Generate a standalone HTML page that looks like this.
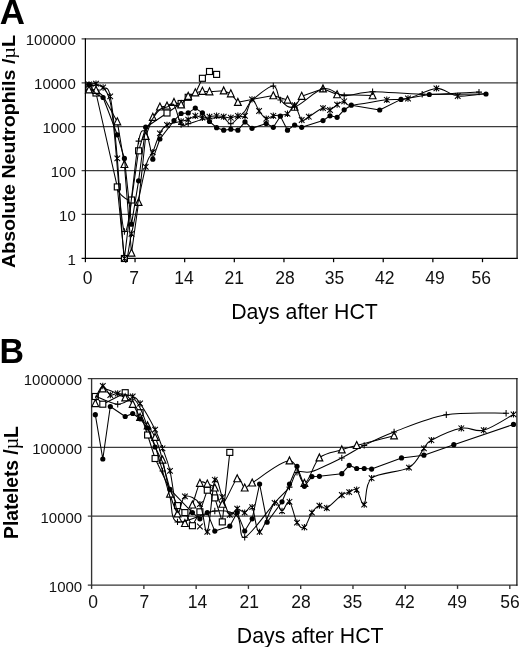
<!DOCTYPE html>
<html><head><meta charset="utf-8"><title>Figure</title>
<style>
html,body{margin:0;padding:0;background:#fff;}
svg{display:block;will-change:transform;font-family:"Liberation Sans",sans-serif;}
.g{stroke:#3c3c3c;stroke-width:1.25;fill:none;}
.g2{stroke:#111;stroke-width:1.25;fill:none;}
.ax{stroke:#000;stroke-width:1.25;fill:none;}
.axb{stroke:#333;stroke-width:1.35;fill:none;}
.t{font-size:15px;fill:#111;}
.tx{font-size:17.5px;fill:#111;}
.xt{font-size:21.3px;fill:#000;}
.pl{font-size:35.3px;font-weight:bold;fill:#000;}
.yl{font-size:18.6px;font-weight:bold;fill:#000;}
.mu{font-family:"Liberation Serif","DejaVu Serif",serif;font-weight:normal;font-size:1.03em;}
.s{stroke:#000;stroke-width:1.05;fill:none;stroke-linejoin:round;}
.mo{stroke:#000;stroke-width:1.15;fill:#fff;}
.mf{stroke:none;fill:#000;}
.mx{stroke:#000;stroke-width:1.05;fill:none;}
</style></head><body>
<svg width="520" height="647" viewBox="0 0 520 647">
<rect width="520" height="647" fill="#fff"/>
<text x="-0.25" y="24.3" class="pl" textLength="25.2" lengthAdjust="spacingAndGlyphs">A</text>
<text x="-0.6" y="363.2" class="pl" textLength="24.5" lengthAdjust="spacingAndGlyphs">B</text>
<line x1="81.60" y1="258.40" x2="517.70" y2="258.40" class="ax"/>
<text x="75.8" y="264.90" class="t" text-anchor="end">1</text>
<line x1="81.60" y1="214.49" x2="517.70" y2="214.49" class="g"/>
<text x="75.8" y="220.99" class="t" text-anchor="end">10</text>
<line x1="81.60" y1="170.58" x2="517.70" y2="170.58" class="g"/>
<text x="75.8" y="177.08" class="t" text-anchor="end">100</text>
<line x1="81.60" y1="126.67" x2="517.70" y2="126.67" class="g"/>
<text x="75.8" y="133.17" class="t" text-anchor="end">1000</text>
<line x1="81.60" y1="82.76" x2="517.70" y2="82.76" class="g"/>
<text x="75.8" y="89.26" class="t" text-anchor="end">10000</text>
<line x1="81.60" y1="38.85" x2="517.70" y2="38.85" class="g"/>
<text x="75.8" y="45.35" class="t" text-anchor="end">100000</text>
<line x1="85.40" y1="38.35" x2="85.40" y2="259.00" class="ax"/>
<line x1="517.10" y1="38.35" x2="517.10" y2="259.00" class="g2"/>
<line x1="85.40" y1="258.40" x2="85.40" y2="262.20" class="ax"/>
<text x="87.50" y="284.2" class="tx" text-anchor="middle">0</text>
<line x1="135.04" y1="258.40" x2="135.04" y2="262.20" class="ax"/>
<text x="134.20" y="284.2" class="tx" text-anchor="middle">7</text>
<line x1="184.67" y1="258.40" x2="184.67" y2="262.20" class="ax"/>
<text x="183.90" y="284.2" class="tx" text-anchor="middle">14</text>
<line x1="234.31" y1="258.40" x2="234.31" y2="262.20" class="ax"/>
<text x="234.30" y="284.2" class="tx" text-anchor="middle">21</text>
<line x1="283.95" y1="258.40" x2="283.95" y2="262.20" class="ax"/>
<text x="285.00" y="284.2" class="tx" text-anchor="middle">28</text>
<line x1="333.59" y1="258.40" x2="333.59" y2="262.20" class="ax"/>
<text x="334.60" y="284.2" class="tx" text-anchor="middle">35</text>
<line x1="383.22" y1="258.40" x2="383.22" y2="262.20" class="ax"/>
<text x="384.80" y="284.2" class="tx" text-anchor="middle">42</text>
<line x1="432.86" y1="258.40" x2="432.86" y2="262.20" class="ax"/>
<text x="435.00" y="284.2" class="tx" text-anchor="middle">49</text>
<line x1="482.50" y1="258.40" x2="482.50" y2="262.20" class="ax"/>
<text x="481.30" y="284.2" class="tx" text-anchor="middle">56</text>
<text x="304.5" y="319.3" class="xt" text-anchor="middle">Days after HCT</text>
<line x1="87.80" y1="585.10" x2="517.50" y2="585.10" class="axb"/>
<text x="82.2" y="591.60" class="t" text-anchor="end">1000</text>
<line x1="87.80" y1="516.23" x2="517.50" y2="516.23" class="g"/>
<text x="82.2" y="522.73" class="t" text-anchor="end">10000</text>
<line x1="87.80" y1="447.37" x2="517.50" y2="447.37" class="g"/>
<text x="82.2" y="453.87" class="t" text-anchor="end">100000</text>
<line x1="87.80" y1="378.50" x2="517.50" y2="378.50" class="g"/>
<text x="82.2" y="385.00" class="t" text-anchor="end">1000000</text>
<line x1="91.60" y1="378.00" x2="91.60" y2="585.70" class="axb"/>
<line x1="516.90" y1="378.00" x2="516.90" y2="585.70" class="g2"/>
<line x1="91.60" y1="585.10" x2="91.60" y2="588.90" class="axb"/>
<text x="93.10" y="608.0" class="tx" text-anchor="middle">0</text>
<line x1="143.88" y1="585.10" x2="143.88" y2="588.90" class="axb"/>
<text x="144.30" y="608.0" class="tx" text-anchor="middle">7</text>
<line x1="196.15" y1="585.10" x2="196.15" y2="588.90" class="axb"/>
<text x="197.50" y="608.0" class="tx" text-anchor="middle">14</text>
<line x1="248.43" y1="585.10" x2="248.43" y2="588.90" class="axb"/>
<text x="249.20" y="608.0" class="tx" text-anchor="middle">21</text>
<line x1="300.70" y1="585.10" x2="300.70" y2="588.90" class="axb"/>
<text x="300.90" y="608.0" class="tx" text-anchor="middle">28</text>
<line x1="352.98" y1="585.10" x2="352.98" y2="588.90" class="axb"/>
<text x="352.40" y="608.0" class="tx" text-anchor="middle">35</text>
<line x1="405.26" y1="585.10" x2="405.26" y2="588.90" class="axb"/>
<text x="405.00" y="608.0" class="tx" text-anchor="middle">42</text>
<line x1="457.53" y1="585.10" x2="457.53" y2="588.90" class="axb"/>
<text x="457.30" y="608.0" class="tx" text-anchor="middle">49</text>
<line x1="509.81" y1="585.10" x2="509.81" y2="588.90" class="axb"/>
<text x="510.10" y="608.0" class="tx" text-anchor="middle">56</text>
<text x="310.2" y="642.5" class="xt" text-anchor="middle">Days after HCT</text>
<text transform="translate(15.3,268) rotate(-90)" class="yl" style="font-size:19.1px" textLength="233" lengthAdjust="spacingAndGlyphs">Absolute Neutrophils /<tspan class="mu">µ</tspan>L</text>
<text transform="translate(18.1,538.9) rotate(-90)" class="yl" style="font-size:19.7px" textLength="112.7" lengthAdjust="spacingAndGlyphs">Platelets /<tspan class="mu">µ</tspan>L</text>
<path d="M89.0,87.0 L96.0,93.0 L117.3,186.9 L124.4,258.5 L131.5,200.0 L138.6,150.8 L145.7,127.5 L167.0,113.0 L181.1,103.5 L188.2,97.3 L195.3,93.5 L202.4,78.3 L209.5,71.5 L216.6,74.4" class="s"/>
<rect x="86.0" y="84.0" width="6" height="6" class="mo"/>
<rect x="93.0" y="90.0" width="6" height="6" class="mo"/>
<rect x="114.3" y="183.9" width="6" height="6" class="mo"/>
<rect x="121.4" y="255.5" width="6" height="6" class="mo"/>
<rect x="128.5" y="197.0" width="6" height="6" class="mo"/>
<rect x="135.6" y="147.8" width="6" height="6" class="mo"/>
<rect x="164.0" y="110.0" width="6" height="6" class="mo"/>
<rect x="178.1" y="100.5" width="6" height="6" class="mo"/>
<rect x="185.2" y="94.3" width="6" height="6" class="mo"/>
<rect x="199.4" y="75.3" width="6" height="6" class="mo"/>
<rect x="206.5" y="68.5" width="6" height="6" class="mo"/>
<rect x="213.6" y="71.4" width="6" height="6" class="mo"/>
<path d="M89.0,89.8 L96.0,90.2 L103.1,96.0 L117.3,121.7 L124.4,164.4 L131.5,253.0 L138.6,202.3 L145.7,136.2 L152.8,117.2 L159.9,106.9 L167.0,105.9 L174.0,102.3 L181.1,104.7 L188.2,96.2 L195.3,92.7 L202.4,91.2 L209.5,91.7 L223.7,90.8 L230.8,93.7 L237.9,102.3 L252.0,99.4 L273.3,95.6 L287.5,100.0 L294.6,107.1 L301.7,96.2 L323.0,88.8 L337.1,94.6 L372.6,95.6" class="s"/>
<path d="M89.0,85.9 L92.4,92.9 L85.5,92.9 Z" class="mo"/>
<path d="M96.0,86.3 L99.4,93.3 L92.6,93.3 Z" class="mo"/>
<path d="M117.3,117.8 L120.7,124.8 L113.9,124.8 Z" class="mo"/>
<path d="M124.4,160.5 L127.8,167.5 L121.0,167.5 Z" class="mo"/>
<path d="M131.5,249.1 L134.9,256.1 L128.1,256.1 Z" class="mo"/>
<path d="M138.6,198.4 L142.0,205.4 L135.2,205.4 Z" class="mo"/>
<path d="M145.7,132.3 L149.1,139.3 L142.3,139.3 Z" class="mo"/>
<path d="M152.8,113.3 L156.2,120.3 L149.4,120.3 Z" class="mo"/>
<path d="M159.9,103.0 L163.3,110.0 L156.5,110.0 Z" class="mo"/>
<path d="M167.0,102.0 L170.4,109.0 L163.6,109.0 Z" class="mo"/>
<path d="M174.0,98.4 L177.4,105.4 L170.6,105.4 Z" class="mo"/>
<path d="M181.1,100.8 L184.5,107.8 L177.7,107.8 Z" class="mo"/>
<path d="M188.2,92.3 L191.6,99.3 L184.8,99.3 Z" class="mo"/>
<path d="M195.3,88.8 L198.7,95.8 L191.9,95.8 Z" class="mo"/>
<path d="M202.4,87.3 L205.8,94.3 L199.0,94.3 Z" class="mo"/>
<path d="M209.5,87.8 L212.9,94.8 L206.1,94.8 Z" class="mo"/>
<path d="M223.7,86.9 L227.1,93.9 L220.3,93.9 Z" class="mo"/>
<path d="M230.8,89.8 L234.2,96.8 L227.4,96.8 Z" class="mo"/>
<path d="M237.9,98.4 L241.3,105.4 L234.5,105.4 Z" class="mo"/>
<path d="M273.3,91.7 L276.7,98.7 L269.9,98.7 Z" class="mo"/>
<path d="M287.5,96.1 L290.9,103.1 L284.1,103.1 Z" class="mo"/>
<path d="M294.6,103.2 L298.0,110.2 L291.2,110.2 Z" class="mo"/>
<path d="M301.7,92.3 L305.1,99.3 L298.3,99.3 Z" class="mo"/>
<path d="M323.0,84.9 L326.4,91.9 L319.6,91.9 Z" class="mo"/>
<path d="M337.1,90.7 L340.5,97.7 L333.7,97.7 Z" class="mo"/>
<path d="M372.6,91.7 L376.0,98.7 L369.2,98.7 Z" class="mo"/>
<path d="M89.0,84.5 C90.1,84.4 93.7,83.2 96.0,83.7 C98.4,84.2 100.8,85.4 103.1,87.5 C105.5,89.6 107.9,84.6 110.2,96.4 C112.6,108.2 115.0,131.4 117.3,158.4 C119.7,185.4 122.0,245.9 124.4,258.5 C126.8,271.1 128.0,249.1 131.5,233.8 C135.0,218.5 142.1,180.5 145.7,166.9 C149.2,153.3 150.4,157.8 152.8,152.2 C155.1,146.6 157.5,137.9 159.9,133.4 C162.2,128.9 163.4,127.0 167.0,125.0 C170.5,123.0 177.6,122.4 181.1,121.5 C184.7,120.6 185.9,120.5 188.2,119.6 C190.6,118.6 193.0,116.1 195.3,115.8 C197.7,115.5 200.0,117.5 202.4,117.7 C204.8,117.9 207.1,117.0 209.5,116.7 C211.9,116.4 214.2,115.8 216.6,115.8 C219.0,115.8 221.3,116.4 223.7,116.7 C226.0,117.0 228.4,117.9 230.8,117.7 C233.1,117.5 235.5,116.1 237.9,115.8 C240.2,115.5 242.6,118.5 245.0,115.8 C247.3,113.1 249.7,100.2 252.0,99.4 C254.4,98.6 256.8,107.8 259.1,111.0 C261.5,114.2 263.9,117.9 266.2,118.7 C268.6,119.5 269.8,116.6 273.3,115.8 C276.9,115.0 284.0,115.6 287.5,113.8 C291.0,112.0 292.2,104.2 294.6,105.2 C297.0,106.2 299.3,118.1 301.7,120.0 C304.0,121.9 305.2,118.7 308.8,116.7 C312.3,114.7 319.4,109.2 323.0,108.1 C326.5,107.0 327.7,110.6 330.0,110.0 C332.4,109.4 334.8,106.0 337.1,104.6 C339.5,103.1 341.9,101.2 344.2,101.3 C346.6,101.4 344.2,105.5 351.3,105.2 C358.4,105.0 377.3,100.9 386.8,99.8 C396.2,98.7 399.8,100.4 408.0,98.5 C416.3,96.6 428.1,88.8 436.4,88.4 C444.7,88.0 449.4,95.1 457.7,96.0 C466.0,96.9 481.3,94.0 486.0,93.6" class="s"/>
<path d="M86.2,81.7 L91.8,87.3 M86.2,87.3 L91.8,81.7 M89.0,81.3 L89.0,87.7" class="mx"/>
<path d="M93.2,80.9 L98.8,86.5 M93.2,86.5 L98.8,80.9 M96.0,80.5 L96.0,86.9" class="mx"/>
<path d="M100.3,84.7 L105.9,90.3 M100.3,90.3 L105.9,84.7 M103.1,84.3 L103.1,90.7" class="mx"/>
<path d="M107.4,93.6 L113.0,99.2 M107.4,99.2 L113.0,93.6 M110.2,93.2 L110.2,99.6" class="mx"/>
<path d="M114.5,155.6 L120.1,161.2 M114.5,161.2 L120.1,155.6 M117.3,155.2 L117.3,161.6" class="mx"/>
<path d="M121.6,255.7 L127.2,261.3 M121.6,261.3 L127.2,255.7 M124.4,255.3 L124.4,261.7" class="mx"/>
<path d="M128.7,231.0 L134.3,236.6 M128.7,236.6 L134.3,231.0 M131.5,230.6 L131.5,237.0" class="mx"/>
<path d="M142.9,164.1 L148.5,169.7 M142.9,169.7 L148.5,164.1 M145.7,163.7 L145.7,170.1" class="mx"/>
<path d="M150.0,149.4 L155.6,155.0 M150.0,155.0 L155.6,149.4 M152.8,149.0 L152.8,155.4" class="mx"/>
<path d="M157.1,130.6 L162.7,136.2 M157.1,136.2 L162.7,130.6 M159.9,130.2 L159.9,136.6" class="mx"/>
<path d="M164.2,122.2 L169.8,127.8 M164.2,127.8 L169.8,122.2 M167.0,121.8 L167.0,128.2" class="mx"/>
<path d="M178.3,118.7 L183.9,124.3 M178.3,124.3 L183.9,118.7 M181.1,118.3 L181.1,124.7" class="mx"/>
<path d="M185.4,116.8 L191.0,122.4 M185.4,122.4 L191.0,116.8 M188.2,116.4 L188.2,122.8" class="mx"/>
<path d="M192.5,113.0 L198.1,118.6 M192.5,118.6 L198.1,113.0 M195.3,112.6 L195.3,119.0" class="mx"/>
<path d="M199.6,114.9 L205.2,120.5 M199.6,120.5 L205.2,114.9 M202.4,114.5 L202.4,120.9" class="mx"/>
<path d="M206.7,113.9 L212.3,119.5 M206.7,119.5 L212.3,113.9 M209.5,113.5 L209.5,119.9" class="mx"/>
<path d="M213.8,113.0 L219.4,118.6 M213.8,118.6 L219.4,113.0 M216.6,112.6 L216.6,119.0" class="mx"/>
<path d="M220.9,113.9 L226.5,119.5 M220.9,119.5 L226.5,113.9 M223.7,113.5 L223.7,119.9" class="mx"/>
<path d="M228.0,114.9 L233.6,120.5 M228.0,120.5 L233.6,114.9 M230.8,114.5 L230.8,120.9" class="mx"/>
<path d="M235.1,113.0 L240.7,118.6 M235.1,118.6 L240.7,113.0 M237.9,112.6 L237.9,119.0" class="mx"/>
<path d="M242.2,113.0 L247.8,118.6 M242.2,118.6 L247.8,113.0 M245.0,112.6 L245.0,119.0" class="mx"/>
<path d="M249.2,96.6 L254.8,102.2 M249.2,102.2 L254.8,96.6 M252.0,96.2 L252.0,102.6" class="mx"/>
<path d="M256.3,108.2 L261.9,113.8 M256.3,113.8 L261.9,108.2 M259.1,107.8 L259.1,114.2" class="mx"/>
<path d="M263.4,115.9 L269.0,121.5 M263.4,121.5 L269.0,115.9 M266.2,115.5 L266.2,121.9" class="mx"/>
<path d="M270.5,113.0 L276.1,118.6 M270.5,118.6 L276.1,113.0 M273.3,112.6 L273.3,119.0" class="mx"/>
<path d="M284.7,111.0 L290.3,116.6 M284.7,116.6 L290.3,111.0 M287.5,110.6 L287.5,117.0" class="mx"/>
<path d="M291.8,102.4 L297.4,108.0 M291.8,108.0 L297.4,102.4 M294.6,102.0 L294.6,108.4" class="mx"/>
<path d="M298.9,117.2 L304.5,122.8 M298.9,122.8 L304.5,117.2 M301.7,116.8 L301.7,123.2" class="mx"/>
<path d="M306.0,113.9 L311.6,119.5 M306.0,119.5 L311.6,113.9 M308.8,113.5 L308.8,119.9" class="mx"/>
<path d="M320.2,105.3 L325.8,110.9 M320.2,110.9 L325.8,105.3 M323.0,104.9 L323.0,111.3" class="mx"/>
<path d="M327.2,107.2 L332.8,112.8 M327.2,112.8 L332.8,107.2 M330.0,106.8 L330.0,113.2" class="mx"/>
<path d="M334.3,101.8 L339.9,107.4 M334.3,107.4 L339.9,101.8 M337.1,101.4 L337.1,107.8" class="mx"/>
<path d="M341.4,98.5 L347.0,104.1 M341.4,104.1 L347.0,98.5 M344.2,98.1 L344.2,104.5" class="mx"/>
<path d="M384.0,97.0 L389.6,102.6 M384.0,102.6 L389.6,97.0 M386.8,96.6 L386.8,103.0" class="mx"/>
<path d="M405.2,95.7 L410.8,101.3 M405.2,101.3 L410.8,95.7 M408.0,95.3 L408.0,101.7" class="mx"/>
<path d="M433.6,85.6 L439.2,91.2 M433.6,91.2 L439.2,85.6 M436.4,85.2 L436.4,91.6" class="mx"/>
<path d="M454.9,93.2 L460.5,98.8 M454.9,98.8 L460.5,93.2 M457.7,92.8 L457.7,99.2" class="mx"/>
<path d="M117.3,189.5 Q121.3,197 128.5,200" class="s"/>
<path d="M89.0,84.5 L96.0,94.0 L103.1,97.5 L117.3,134.8 L124.4,158.4 L131.5,224.2 L138.6,180.8 L145.7,127.2 L152.8,159.2 L159.9,139.0 L174.0,120.6 L181.1,113.5 L188.2,112.9 L195.3,108.1 L202.4,112.9 L209.5,121.5 L216.6,127.7 L223.7,130.2 L230.8,129.2 L237.9,130.2 L245.0,121.9 L252.0,128.3 L266.2,123.5 L273.3,127.3 L280.4,116.2 L287.5,130.2 L294.6,125.0 L301.7,127.3 L323.0,120.6 L330.0,115.8 L337.1,117.3 L344.2,109.8 L351.3,105.2 L379.7,110.0 L401.0,99.4 L429.3,94.5 L486.0,94.0" class="s"/>
<circle cx="89.0" cy="84.5" r="2.6" class="mf"/>
<circle cx="103.1" cy="97.5" r="2.6" class="mf"/>
<circle cx="117.3" cy="134.8" r="2.6" class="mf"/>
<circle cx="124.4" cy="158.4" r="2.6" class="mf"/>
<circle cx="131.5" cy="224.2" r="2.6" class="mf"/>
<circle cx="138.6" cy="180.8" r="2.6" class="mf"/>
<circle cx="145.7" cy="127.2" r="2.6" class="mf"/>
<circle cx="152.8" cy="159.2" r="2.6" class="mf"/>
<circle cx="159.9" cy="139.0" r="2.6" class="mf"/>
<circle cx="174.0" cy="120.6" r="2.6" class="mf"/>
<circle cx="181.1" cy="113.5" r="2.6" class="mf"/>
<circle cx="188.2" cy="112.9" r="2.6" class="mf"/>
<circle cx="195.3" cy="108.1" r="2.6" class="mf"/>
<circle cx="202.4" cy="112.9" r="2.6" class="mf"/>
<circle cx="209.5" cy="121.5" r="2.6" class="mf"/>
<circle cx="216.6" cy="127.7" r="2.6" class="mf"/>
<circle cx="223.7" cy="130.2" r="2.6" class="mf"/>
<circle cx="230.8" cy="129.2" r="2.6" class="mf"/>
<circle cx="237.9" cy="130.2" r="2.6" class="mf"/>
<circle cx="245.0" cy="121.9" r="2.6" class="mf"/>
<circle cx="252.0" cy="128.3" r="2.6" class="mf"/>
<circle cx="266.2" cy="123.5" r="2.6" class="mf"/>
<circle cx="273.3" cy="127.3" r="2.6" class="mf"/>
<circle cx="280.4" cy="116.2" r="2.6" class="mf"/>
<circle cx="287.5" cy="130.2" r="2.6" class="mf"/>
<circle cx="294.6" cy="125.0" r="2.6" class="mf"/>
<circle cx="301.7" cy="127.3" r="2.6" class="mf"/>
<circle cx="323.0" cy="120.6" r="2.6" class="mf"/>
<circle cx="330.0" cy="115.8" r="2.6" class="mf"/>
<circle cx="337.1" cy="117.3" r="2.6" class="mf"/>
<circle cx="344.2" cy="109.8" r="2.6" class="mf"/>
<circle cx="351.3" cy="105.2" r="2.6" class="mf"/>
<circle cx="379.7" cy="110.0" r="2.6" class="mf"/>
<circle cx="401.0" cy="99.4" r="2.6" class="mf"/>
<circle cx="429.3" cy="94.5" r="2.6" class="mf"/>
<circle cx="486.0" cy="94.0" r="2.6" class="mf"/>
<path d="M89.0,85.0 C92.5,87.8 104.3,77.6 110.2,102.0 C116.1,126.4 119.7,225.0 124.4,231.5 C129.1,238.0 135.0,158.0 138.6,141.1 C142.1,124.2 143.3,133.8 145.7,130.0 C148.0,126.2 150.4,121.9 152.8,118.5 C155.1,115.1 157.5,111.4 159.9,109.5 C162.2,107.6 164.6,107.8 167.0,107.0 C169.3,106.2 171.7,102.1 174.0,105.0 C176.4,107.9 178.8,121.4 181.1,124.5 C183.5,127.6 184.7,124.6 188.2,123.8 C191.8,123.0 197.7,120.5 202.4,119.5 C207.1,118.5 213.0,118.0 216.6,117.8 C220.1,117.5 221.3,117.0 223.7,118.0 C226.0,119.0 228.4,123.8 230.8,123.8 C233.1,123.8 235.5,120.1 237.9,118.0 C240.2,115.9 242.6,113.9 245.0,111.0 C247.3,108.1 247.3,104.6 252.0,100.4 C256.8,96.2 268.6,86.1 273.3,86.0 C278.0,85.9 276.9,96.5 280.4,100.0 C284.0,103.5 287.5,108.9 294.6,107.0 C301.7,105.1 314.7,90.7 323.0,88.8 C331.2,86.9 336.0,95.1 344.2,95.6 C352.5,96.1 359.6,91.9 372.6,91.7 C385.6,91.5 404.5,94.1 422.2,94.2 C440.0,94.3 469.5,92.4 479.0,92.1" class="s"/>
<path d="M121.4,231.5 L127.4,231.5 M124.4,228.3 L124.4,234.7" class="mx"/>
<path d="M135.6,141.1 L141.6,141.1 M138.6,137.9 L138.6,144.3" class="mx"/>
<path d="M178.1,124.5 L184.1,124.5 M181.1,121.3 L181.1,127.7" class="mx"/>
<path d="M185.2,123.8 L191.2,123.8 M188.2,120.6 L188.2,127.0" class="mx"/>
<path d="M227.8,123.8 L233.8,123.8 M230.8,120.6 L230.8,127.0" class="mx"/>
<path d="M270.3,86.0 L276.3,86.0 M273.3,82.8 L273.3,89.2" class="mx"/>
<path d="M277.4,100.0 L283.4,100.0 M280.4,96.8 L280.4,103.2" class="mx"/>
<path d="M291.6,107.0 L297.6,107.0 M294.6,103.8 L294.6,110.2" class="mx"/>
<path d="M320.0,88.8 L326.0,88.8 M323.0,85.6 L323.0,92.0" class="mx"/>
<path d="M341.2,95.6 L347.2,95.6 M344.2,92.4 L344.2,98.8" class="mx"/>
<path d="M369.6,91.7 L375.6,91.7 M372.6,88.5 L372.6,94.9" class="mx"/>
<path d="M419.2,94.2 L425.2,94.2 M422.2,91.0 L422.2,97.4" class="mx"/>
<path d="M476.0,92.1 L482.0,92.1 M479.0,88.9 L479.0,95.3" class="mx"/>
<path d="M95.3,396.5 L102.8,404.2 L125.2,392.7 L140.1,412.7 L147.6,435.0 L155.1,458.5 L177.5,505.6 L184.9,512.6 L192.4,525.7 L199.9,511.8 L207.3,490.2 L214.8,497.9 L222.3,521.9 L229.8,452.4" class="s"/>
<rect x="92.3" y="393.5" width="6" height="6" class="mo"/>
<rect x="99.8" y="401.2" width="6" height="6" class="mo"/>
<rect x="122.2" y="389.7" width="6" height="6" class="mo"/>
<rect x="137.1" y="409.7" width="6" height="6" class="mo"/>
<rect x="144.6" y="432.0" width="6" height="6" class="mo"/>
<rect x="152.1" y="455.5" width="6" height="6" class="mo"/>
<rect x="174.5" y="502.6" width="6" height="6" class="mo"/>
<rect x="181.9" y="509.6" width="6" height="6" class="mo"/>
<rect x="189.4" y="522.7" width="6" height="6" class="mo"/>
<rect x="196.9" y="508.8" width="6" height="6" class="mo"/>
<rect x="204.3" y="487.2" width="6" height="6" class="mo"/>
<rect x="211.8" y="494.9" width="6" height="6" class="mo"/>
<rect x="219.3" y="518.9" width="6" height="6" class="mo"/>
<rect x="226.8" y="449.4" width="6" height="6" class="mo"/>
<path d="M95.3,403.5 C96.6,401.1 97.8,389.8 102.8,388.8 C107.8,387.9 120.2,395.2 125.2,397.8 C130.2,400.4 130.2,400.9 132.7,404.2 C135.2,407.4 137.6,413.7 140.1,417.3 C142.6,420.9 145.1,422.5 147.6,425.8 C150.1,429.1 152.6,431.6 155.1,437.3 C157.6,443.0 160.1,450.6 162.5,460.0 C165.0,469.4 167.5,485.0 170.0,494.0 C172.5,503.0 175.0,508.9 177.5,513.8 C180.0,518.7 182.5,524.9 184.9,523.4 C187.4,521.9 189.9,511.6 192.4,504.9 C194.9,498.2 197.4,486.7 199.9,483.2 C202.4,479.7 204.9,483.2 207.3,484.0 C209.8,484.8 212.3,484.5 214.8,487.9 C217.3,491.2 218.6,505.7 222.3,504.1 C226.0,502.6 233.5,481.3 237.2,478.6 C241.0,475.9 242.2,487.2 244.7,487.9 C247.2,488.6 244.7,487.4 252.2,482.9 C259.6,478.4 280.8,460.8 289.5,460.8 C298.2,460.9 299.5,483.7 304.4,483.2 C309.4,482.7 313.1,463.4 319.4,457.8 C325.6,452.2 335.6,451.9 341.8,449.8 C348.0,447.7 348.0,447.8 356.7,445.4 C365.4,443.0 387.8,437.3 394.1,435.7" class="s"/>
<path d="M95.3,399.6 L98.7,406.6 L91.9,406.6 Z" class="mo"/>
<path d="M102.8,384.9 L106.2,391.9 L99.4,391.9 Z" class="mo"/>
<path d="M125.2,393.9 L128.6,400.9 L121.8,400.9 Z" class="mo"/>
<path d="M132.7,400.3 L136.1,407.3 L129.3,407.3 Z" class="mo"/>
<path d="M140.1,413.4 L143.5,420.4 L136.7,420.4 Z" class="mo"/>
<path d="M147.6,421.9 L151.0,428.9 L144.2,428.9 Z" class="mo"/>
<path d="M155.1,433.4 L158.5,440.4 L151.7,440.4 Z" class="mo"/>
<path d="M162.5,456.1 L165.9,463.1 L159.1,463.1 Z" class="mo"/>
<path d="M170.0,490.1 L173.4,497.1 L166.6,497.1 Z" class="mo"/>
<path d="M177.5,509.9 L180.9,516.9 L174.1,516.9 Z" class="mo"/>
<path d="M184.9,519.5 L188.3,526.5 L181.5,526.5 Z" class="mo"/>
<path d="M192.4,501.0 L195.8,508.0 L189.0,508.0 Z" class="mo"/>
<path d="M199.9,479.3 L203.3,486.3 L196.5,486.3 Z" class="mo"/>
<path d="M207.3,480.1 L210.8,487.1 L203.9,487.1 Z" class="mo"/>
<path d="M214.8,484.0 L218.2,491.0 L211.4,491.0 Z" class="mo"/>
<path d="M222.3,500.2 L225.7,507.2 L218.9,507.2 Z" class="mo"/>
<path d="M237.2,474.7 L240.6,481.7 L233.8,481.7 Z" class="mo"/>
<path d="M244.7,484.0 L248.1,491.0 L241.3,491.0 Z" class="mo"/>
<path d="M252.2,479.0 L255.6,486.0 L248.8,486.0 Z" class="mo"/>
<path d="M289.5,456.9 L292.9,463.9 L286.1,463.9 Z" class="mo"/>
<path d="M304.4,479.3 L307.8,486.3 L301.0,486.3 Z" class="mo"/>
<path d="M319.4,453.9 L322.8,460.9 L316.0,460.9 Z" class="mo"/>
<path d="M341.8,445.9 L345.2,452.9 L338.4,452.9 Z" class="mo"/>
<path d="M356.7,441.5 L360.1,448.5 L353.3,448.5 Z" class="mo"/>
<path d="M394.1,431.8 L397.4,438.8 L390.7,438.8 Z" class="mo"/>
<path d="M95.3,398.0 C96.6,396.0 100.3,386.5 102.8,386.0 C105.3,385.5 107.8,393.8 110.3,395.0 C112.8,396.2 114.0,393.2 117.7,393.5 C121.5,393.8 128.9,394.8 132.7,396.5 C136.4,398.2 136.4,398.0 140.1,403.5 C143.9,409.0 151.3,422.1 155.1,429.6 C158.8,437.1 160.1,441.4 162.5,448.3 C165.0,455.2 167.5,460.3 170.0,470.9 C172.5,481.5 175.0,507.8 177.5,512.0 C180.0,516.2 181.2,497.7 184.9,496.4 C188.7,495.1 196.1,498.2 199.9,504.1 C203.6,510.0 204.9,535.9 207.3,531.9 C209.8,527.9 212.3,485.6 214.8,479.8 C217.3,474.0 219.8,491.2 222.3,497.1 C224.8,503.0 227.3,513.0 229.8,514.9 C232.2,516.8 234.7,509.1 237.2,508.7 C239.7,508.3 242.2,512.9 244.7,512.6 C247.2,512.4 249.7,504.0 252.2,507.2 C254.6,510.4 255.9,532.6 259.6,531.9 C263.4,531.2 270.8,506.4 274.6,502.9 C278.3,499.4 279.5,511.2 282.0,511.0 C284.5,510.8 287.0,499.9 289.5,501.8 C292.0,503.7 294.5,518.4 297.0,522.6 C299.5,526.9 301.9,529.0 304.4,527.3 C306.9,525.6 309.4,516.2 311.9,512.6 C314.4,509.0 316.9,506.4 319.4,505.6 C321.9,504.8 323.1,509.8 326.8,508.0 C330.6,506.2 338.0,497.6 341.8,495.0 C345.5,492.4 346.8,493.0 349.2,492.1 C351.7,491.2 354.2,487.7 356.7,489.8 C359.2,491.9 361.7,506.5 364.2,504.6 C366.7,502.7 364.2,484.4 371.6,478.2 C379.1,472.0 400.3,472.6 409.0,467.6 C417.7,462.6 420.2,453.0 423.9,448.4 C427.7,443.8 425.2,443.5 431.4,440.2 C437.6,436.9 452.5,430.0 461.3,428.3 C470.0,426.6 475.0,432.5 483.7,430.2 C492.4,427.9 508.6,417.0 513.5,414.4" class="s"/>
<path d="M100.0,383.2 L105.6,388.8 M100.0,388.8 L105.6,383.2 M102.8,382.8 L102.8,389.2" class="mx"/>
<path d="M107.5,392.2 L113.1,397.8 M107.5,397.8 L113.1,392.2 M110.3,391.8 L110.3,398.2" class="mx"/>
<path d="M114.9,390.7 L120.5,396.3 M114.9,396.3 L120.5,390.7 M117.7,390.3 L117.7,396.7" class="mx"/>
<path d="M129.9,393.7 L135.5,399.3 M129.9,399.3 L135.5,393.7 M132.7,393.3 L132.7,399.7" class="mx"/>
<path d="M137.3,400.7 L142.9,406.3 M137.3,406.3 L142.9,400.7 M140.1,400.3 L140.1,406.7" class="mx"/>
<path d="M152.3,426.8 L157.9,432.4 M152.3,432.4 L157.9,426.8 M155.1,426.4 L155.1,432.8" class="mx"/>
<path d="M159.7,445.5 L165.3,451.1 M159.7,451.1 L165.3,445.5 M162.5,445.1 L162.5,451.5" class="mx"/>
<path d="M167.2,468.1 L172.8,473.7 M167.2,473.7 L172.8,468.1 M170.0,467.7 L170.0,474.1" class="mx"/>
<path d="M182.1,493.6 L187.7,499.2 M182.1,499.2 L187.7,493.6 M184.9,493.2 L184.9,499.6" class="mx"/>
<path d="M197.1,501.3 L202.7,506.9 M197.1,506.9 L202.7,501.3 M199.9,500.9 L199.9,507.3" class="mx"/>
<path d="M204.5,529.1 L210.2,534.7 M204.5,534.7 L210.2,529.1 M207.3,528.7 L207.3,535.1" class="mx"/>
<path d="M212.0,477.0 L217.6,482.6 M212.0,482.6 L217.6,477.0 M214.8,476.6 L214.8,483.0" class="mx"/>
<path d="M219.5,494.3 L225.1,499.9 M219.5,499.9 L225.1,494.3 M222.3,493.9 L222.3,500.3" class="mx"/>
<path d="M227.0,512.1 L232.6,517.7 M227.0,517.7 L232.6,512.1 M229.8,511.7 L229.8,518.1" class="mx"/>
<path d="M234.4,505.9 L240.0,511.5 M234.4,511.5 L240.0,505.9 M237.2,505.5 L237.2,511.9" class="mx"/>
<path d="M241.9,509.8 L247.5,515.4 M241.9,515.4 L247.5,509.8 M244.7,509.4 L244.7,515.8" class="mx"/>
<path d="M249.4,504.4 L255.0,510.0 M249.4,510.0 L255.0,504.4 M252.2,504.0 L252.2,510.4" class="mx"/>
<path d="M256.8,529.1 L262.4,534.7 M256.8,534.7 L262.4,529.1 M259.6,528.7 L259.6,535.1" class="mx"/>
<path d="M271.8,500.1 L277.4,505.7 M271.8,505.7 L277.4,500.1 M274.6,499.7 L274.6,506.1" class="mx"/>
<path d="M279.2,508.2 L284.8,513.8 M279.2,513.8 L284.8,508.2 M282.0,507.8 L282.0,514.2" class="mx"/>
<path d="M286.7,499.0 L292.3,504.6 M286.7,504.6 L292.3,499.0 M289.5,498.6 L289.5,505.0" class="mx"/>
<path d="M294.2,519.8 L299.8,525.4 M294.2,525.4 L299.8,519.8 M297.0,519.4 L297.0,525.8" class="mx"/>
<path d="M301.6,524.5 L307.2,530.1 M301.6,530.1 L307.2,524.5 M304.4,524.1 L304.4,530.5" class="mx"/>
<path d="M309.1,509.8 L314.7,515.4 M309.1,515.4 L314.7,509.8 M311.9,509.4 L311.9,515.8" class="mx"/>
<path d="M316.6,502.8 L322.2,508.4 M316.6,508.4 L322.2,502.8 M319.4,502.4 L319.4,508.8" class="mx"/>
<path d="M324.0,505.2 L329.6,510.8 M324.0,510.8 L329.6,505.2 M326.8,504.8 L326.8,511.2" class="mx"/>
<path d="M339.0,492.2 L344.6,497.8 M339.0,497.8 L344.6,492.2 M341.8,491.8 L341.8,498.2" class="mx"/>
<path d="M346.4,489.3 L352.0,494.9 M346.4,494.9 L352.0,489.3 M349.2,488.9 L349.2,495.3" class="mx"/>
<path d="M353.9,487.0 L359.5,492.6 M353.9,492.6 L359.5,487.0 M356.7,486.6 L356.7,493.0" class="mx"/>
<path d="M361.4,501.8 L367.0,507.4 M361.4,507.4 L367.0,501.8 M364.2,501.4 L364.2,507.8" class="mx"/>
<path d="M368.8,475.4 L374.4,481.0 M368.8,481.0 L374.4,475.4 M371.6,475.0 L371.6,481.4" class="mx"/>
<path d="M406.2,464.8 L411.8,470.4 M406.2,470.4 L411.8,464.8 M409.0,464.4 L409.0,470.8" class="mx"/>
<path d="M421.1,445.6 L426.7,451.2 M421.1,451.2 L426.7,445.6 M423.9,445.2 L423.9,451.6" class="mx"/>
<path d="M428.6,437.4 L434.2,443.0 M428.6,443.0 L434.2,437.4 M431.4,437.0 L431.4,443.4" class="mx"/>
<path d="M458.5,425.5 L464.1,431.1 M458.5,431.1 L464.1,425.5 M461.3,425.1 L461.3,431.5" class="mx"/>
<path d="M480.9,427.4 L486.5,433.0 M480.9,433.0 L486.5,427.4 M483.7,427.0 L483.7,433.4" class="mx"/>
<path d="M510.7,411.6 L516.3,417.2 M510.7,417.2 L516.3,411.6 M513.5,411.2 L513.5,417.6" class="mx"/>
<path d="M197.1,523.7 L202.7,529.3 M197.1,529.3 L202.7,523.7" class="mx"/>
<path d="M95.3,414.7 L102.8,459.0 L110.3,406.5 L125.2,416.5 L132.7,413.5 L140.1,418.8 L147.6,428.0 L155.1,447.0 L162.5,462.0 L170.0,489.4 L192.4,512.6 L199.9,518.8 L207.3,512.6 L214.8,531.1 L229.8,526.2 L237.2,512.6 L244.7,531.1 L252.2,518.8 L259.6,484.0 L267.1,522.2 L282.0,501.8 L289.5,484.0 L297.0,466.3 L304.4,486.3 L311.9,476.6 L319.4,476.3 L341.8,473.7 L349.2,465.3 L356.7,468.5 L364.2,468.5 L371.6,469.1 L401.5,457.9 L423.9,455.2 L453.8,444.7 L513.5,424.4" class="s"/>
<circle cx="95.3" cy="414.7" r="2.6" class="mf"/>
<circle cx="102.8" cy="459.0" r="2.6" class="mf"/>
<circle cx="110.3" cy="406.5" r="2.6" class="mf"/>
<circle cx="125.2" cy="416.5" r="2.6" class="mf"/>
<circle cx="132.7" cy="413.5" r="2.6" class="mf"/>
<circle cx="140.1" cy="418.8" r="2.6" class="mf"/>
<circle cx="147.6" cy="428.0" r="2.6" class="mf"/>
<circle cx="155.1" cy="447.0" r="2.6" class="mf"/>
<circle cx="170.0" cy="489.4" r="2.6" class="mf"/>
<circle cx="192.4" cy="512.6" r="2.6" class="mf"/>
<circle cx="199.9" cy="518.8" r="2.6" class="mf"/>
<circle cx="207.3" cy="512.6" r="2.6" class="mf"/>
<circle cx="214.8" cy="531.1" r="2.6" class="mf"/>
<circle cx="229.8" cy="526.2" r="2.6" class="mf"/>
<circle cx="237.2" cy="512.6" r="2.6" class="mf"/>
<circle cx="244.7" cy="531.1" r="2.6" class="mf"/>
<circle cx="252.2" cy="518.8" r="2.6" class="mf"/>
<circle cx="259.6" cy="484.0" r="2.6" class="mf"/>
<circle cx="267.1" cy="522.2" r="2.6" class="mf"/>
<circle cx="282.0" cy="501.8" r="2.6" class="mf"/>
<circle cx="289.5" cy="484.0" r="2.6" class="mf"/>
<circle cx="297.0" cy="466.3" r="2.6" class="mf"/>
<circle cx="304.4" cy="486.3" r="2.6" class="mf"/>
<circle cx="311.9" cy="476.6" r="2.6" class="mf"/>
<circle cx="319.4" cy="476.3" r="2.6" class="mf"/>
<circle cx="341.8" cy="473.7" r="2.6" class="mf"/>
<circle cx="349.2" cy="465.3" r="2.6" class="mf"/>
<circle cx="356.7" cy="468.5" r="2.6" class="mf"/>
<circle cx="364.2" cy="468.5" r="2.6" class="mf"/>
<circle cx="371.6" cy="469.1" r="2.6" class="mf"/>
<circle cx="401.5" cy="457.9" r="2.6" class="mf"/>
<circle cx="423.9" cy="455.2" r="2.6" class="mf"/>
<circle cx="453.8" cy="444.7" r="2.6" class="mf"/>
<circle cx="513.5" cy="424.4" r="2.6" class="mf"/>
<path d="M95.3,396.0 C99.1,397.4 111.5,403.7 117.7,404.2 C124.0,404.7 128.9,398.4 132.7,399.0 C136.4,399.6 137.6,403.3 140.1,408.0 C142.6,412.7 145.1,420.7 147.6,427.0 C150.1,433.3 152.6,438.7 155.1,446.0 C157.6,453.3 160.1,462.4 162.5,470.9 C165.0,479.4 167.5,488.5 170.0,497.0 C172.5,505.5 170.0,519.6 177.5,521.9 C184.9,524.2 204.9,512.0 214.8,511.0 C224.8,510.0 232.2,511.6 237.2,516.0 C242.2,520.4 238.5,539.5 244.7,537.3 C250.9,535.1 267.1,511.4 274.6,503.0 C282.0,494.6 285.8,492.2 289.5,487.1 C293.2,482.0 293.2,475.0 297.0,472.4 C300.7,469.8 304.4,473.9 311.9,471.5 C319.4,469.1 333.1,462.2 341.8,457.9 C350.5,453.5 355.5,449.7 364.2,445.4 C372.9,441.1 380.4,437.0 394.1,431.9 C407.7,426.8 427.7,417.8 446.3,414.7 C465.0,411.6 496.1,413.4 506.1,413.2" class="s"/>
<path d="M114.7,404.2 L120.7,404.2 M117.7,401.0 L117.7,407.4" class="mx"/>
<path d="M159.5,470.9 L165.5,470.9 M162.5,467.7 L162.5,474.1" class="mx"/>
<path d="M174.5,521.9 L180.5,521.9 M177.5,518.7 L177.5,525.1" class="mx"/>
<path d="M211.8,511.0 L217.8,511.0 M214.8,507.8 L214.8,514.2" class="mx"/>
<path d="M241.7,537.3 L247.7,537.3 M244.7,534.1 L244.7,540.5" class="mx"/>
<path d="M286.5,487.1 L292.5,487.1 M289.5,483.9 L289.5,490.3" class="mx"/>
<path d="M294.0,472.4 L300.0,472.4 M297.0,469.2 L297.0,475.6" class="mx"/>
<path d="M338.8,457.9 L344.8,457.9 M341.8,454.7 L341.8,461.1" class="mx"/>
<path d="M361.2,445.4 L367.2,445.4 M364.2,442.2 L364.2,448.6" class="mx"/>
<path d="M391.1,431.9 L397.1,431.9 M394.1,428.7 L394.1,435.1" class="mx"/>
<path d="M443.3,414.7 L449.3,414.7 M446.3,411.5 L446.3,417.9" class="mx"/>
<path d="M503.1,413.2 L509.1,413.2 M506.1,410.0 L506.1,416.4" class="mx"/>
</svg>
</body></html>
